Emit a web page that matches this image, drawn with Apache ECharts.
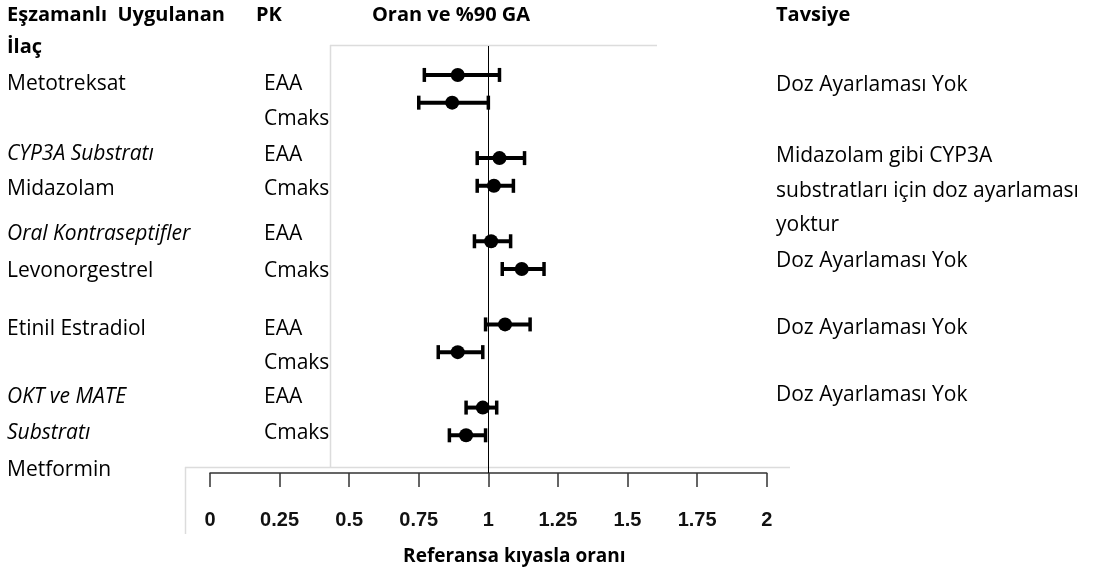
<!DOCTYPE html>
<html>
<head>
<meta charset="utf-8">
<script src="https://cdn.jsdelivr.net/npm/echarts@6/dist/echarts.min.js"></script>
<style>
html,body{margin:0;padding:0;background:#fff;}
#chart{width:1097px;height:571px;}
</style>
</head>
<body>
<div id="chart"></div>
<script>
// ---- data ----
const rowNames = ['Metotreksat EAA','Metotreksat Cmaks','Midazolam EAA','Midazolam Cmaks',
  'Levonorgestrel EAA','Levonorgestrel Cmaks','Etinil Estradiol EAA','Etinil Estradiol Cmaks',
  'Metformin EAA','Metformin Cmaks'];
const rowSlot = [0,1,3,4,6,7,9,10,12,13];
const ratio = [0.89,0.87,1.04,1.02,1.01,1.12,1.06,0.89,0.98,0.92];
const lower = [0.77,0.75,0.96,0.96,0.95,1.05,0.99,0.82,0.92,0.86];
const upper = [1.04,1.00,1.13,1.09,1.08,1.20,1.15,0.98,1.03,0.99];
const xTicks = [0,0.25,0.5,0.75,1,1.25,1.5,1.75,2];

// table text
const drugText = [
  ['Metotreksat',84,'normal'],['CYP3A Substratı',154,'italic'],['Midazolam',189,'normal'],
  ['Oral Kontraseptifler',234,'italic'],['Levonorgestrel',271,'normal'],
  ['Etinil Estradiol',329,'normal'],['OKT ve MATE',397,'italic'],['Substratı',433,'italic'],
  ['Metformin',470,'normal']];
const pkText = [['EAA',84],['Cmaks',119],['EAA',155],['Cmaks',189],['EAA',234],['Cmaks',271],
  ['EAA',329],['Cmaks',363],['EAA',397],['Cmaks',433]];
const adviceText = [['Doz Ayarlaması Yok',85],['Midazolam gibi CYP3A',156],
  ['substratları için doz ayarlaması',191],['yoktur',225],['Doz Ayarlaması Yok',261],
  ['Doz Ayarlaması Yok',328],['Doz Ayarlaması Yok',395]];

const FONT = 'Open Sans';
const chart = echarts.init(document.getElementById('chart'));

const data = rowSlot.map((s,i)=>[lower[i],upper[i],ratio[i],s,rowNames[i]]);

function txt(t,x,y,opt){
  return {type:'text',x:x,y:y,style:Object.assign({text:t,fill:'#000',
    fontFamily:FONT,fontSize:21,verticalAlign:'middle',align:'left'},opt||{})};
}
const graphics = [];
const gray = '#dcdcdc';
graphics.push({type:'line',shape:{x1:330,y1:45.5,x2:657,y2:45.5},style:{stroke:gray,lineWidth:1.5},z:-1});
graphics.push({type:'line',shape:{x1:330.5,y1:45,x2:330.5,y2:467},style:{stroke:gray,lineWidth:1.5},z:-1});
graphics.push({type:'line',shape:{x1:185,y1:467.5,x2:790,y2:467.5},style:{stroke:gray,lineWidth:1.5},z:-1});
graphics.push({type:'line',shape:{x1:185.5,y1:467,x2:185.5,y2:534},style:{stroke:gray,lineWidth:1.5},z:-1});

graphics.push(txt('Eşzamanlı  Uygulanan',7,15,{fontWeight:'bold',fontSize:20}));
graphics.push(txt('İlaç',7,47,{fontWeight:'bold',fontSize:20}));
graphics.push(txt('PK',256,15,{fontWeight:'bold',fontSize:20}));
graphics.push(txt('Oran ve %90 GA',451,15,{fontWeight:'bold',fontSize:20,align:'center'}));
graphics.push(txt('Tavsiye',776,15,{fontWeight:'bold',fontSize:20}));
drugText.forEach(d=>graphics.push(txt(d[0],7,d[1],{fontStyle:d[2]})));
pkText.forEach(d=>graphics.push(txt(d[0],264,d[1])));
adviceText.forEach(d=>graphics.push(txt(d[0],776,d[1])));

chart.setOption({
  animation:false,
  backgroundColor:'#fff',
  grid:{left:210,right:330.3,top:46,bottom:97},
  xAxis:{type:'value',min:0,max:2,interval:0.25,position:'bottom',
    axisLine:{show:true,onZero:false,lineStyle:{color:'#333',width:1.5}},
    axisTick:{show:true,length:14,lineStyle:{color:'#333',width:1.5}},
    splitLine:{show:false},
    axisLabel:{margin:37,color:'#111',fontFamily:'Liberation Sans',fontWeight:'bold',fontSize:20,
      formatter:v=>String(v)},
    name:'Referansa kıyasla oranı',nameLocation:'middle',nameGap:74,
    nameTextStyle:{color:'#000',fontFamily:FONT,fontWeight:'bold',fontSize:19,padding:[0,0,0,52]}},
  yAxis:{type:'value',inverse:true,min:-1.044,max:14.36,show:false},
  graphic:graphics,
  series:[{
    type:'custom',
    data:data,
    encode:{x:[0,1,2],y:3},
    renderItem:function(params,api){
      const y = api.value(3);
      const pL = api.coord([api.value(0),y]);
      const pU = api.coord([api.value(1),y]);
      const pM = api.coord([api.value(2),y]);
      const st = {stroke:'#000',lineWidth:4};
      return {type:'group',children:[
        {type:'line',shape:{x1:pL[0],y1:pL[1],x2:pU[0],y2:pU[1]},style:st},
        {type:'line',shape:{x1:pL[0],y1:pL[1]-7,x2:pL[0],y2:pL[1]+7},style:{stroke:'#000',lineWidth:3.5}},
        {type:'line',shape:{x1:pU[0],y1:pU[1]-7,x2:pU[0],y2:pU[1]+7},style:{stroke:'#000',lineWidth:3.5}},
        {type:'circle',shape:{cx:pM[0],cy:pM[1],r:7},style:{fill:'#000'}}
      ]};
    },
    markLine:{silent:true,symbol:'none',label:{show:false},
      lineStyle:{color:'#000',width:1,type:'solid'},
      data:[{xAxis:1}]},
    z:3
  }]
});
</script>
</body>
</html>
